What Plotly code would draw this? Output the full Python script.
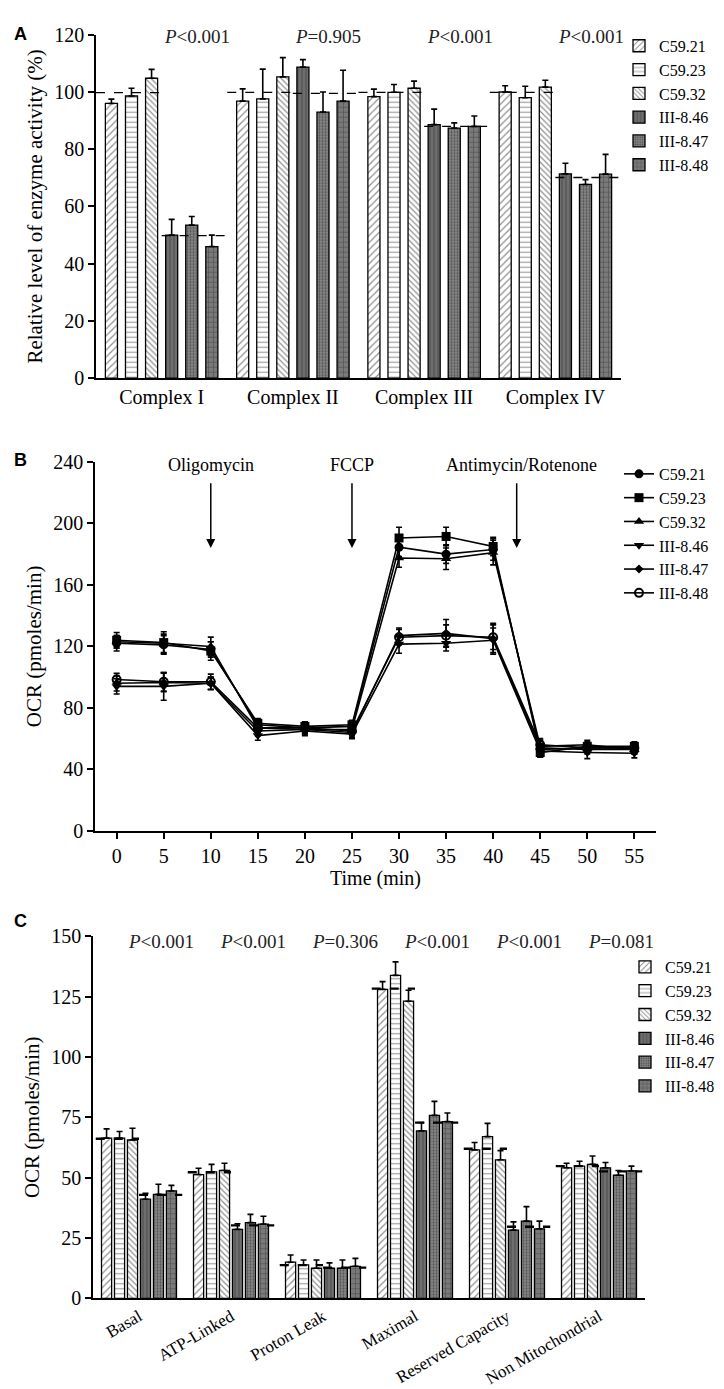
import numpy as np
import plotly.graph_objects as go

# ---------------- data ----------------
series = ["C59.21", "C59.23", "C59.32", "III-8.46", "III-8.47", "III-8.48"]

# Panel A
complexes = ["Complex I", "Complex II", "Complex III", "Complex IV"]
a_vals = {
    "C59.21": [96.0, 96.8, 98.4, 100.0],
    "C59.23": [98.6, 97.6, 99.9, 98.0],
    "C59.32": [104.8, 105.3, 101.3, 101.7],
    "III-8.46": [50.0, 108.7, 88.6, 71.4],
    "III-8.47": [53.5, 93.0, 87.4, 67.7],
    "III-8.48": [46.0, 96.8, 88.0, 71.3],
}
a_err = {
    "C59.21": [1.5, 4.3, 2.6, 2.2],
    "C59.23": [2.7, 10.4, 2.7, 4.0],
    "C59.32": [3.1, 6.7, 2.5, 2.4],
    "III-8.46": [5.5, 2.6, 5.4, 3.7],
    "III-8.47": [3.0, 7.0, 1.8, 1.7],
    "III-8.48": [4.0, 10.8, 3.6, 6.9],
}
a_pvals = ["<i>P</i>&lt;0.001", "<i>P</i>=0.905", "<i>P</i>&lt;0.001", "<i>P</i>&lt;0.001"]

# Panel B
time_min = [0, 5, 10, 15, 20, 25, 30, 35, 40, 45, 50, 55]
b_vals = {
    "C59.21": [122, 121, 118, 69, 67, 68, 184.5, 180, 183, 53, 54, 54],
    "C59.23": [124, 122.5, 117, 70, 68, 69, 190.5, 191.5, 185, 51, 55, 55],
    "C59.32": [123, 122, 120, 67, 66, 66, 177.5, 177, 181, 55, 56, 53],
    "III-8.46": [94, 94, 96, 62, 65, 63, 121.5, 122, 124, 52, 51, 50.5],
    "III-8.47": [96, 96.5, 96, 65, 66, 64, 127, 128.5, 125, 54, 53, 53],
    "III-8.48": [98.5, 97, 97, 67, 67, 65, 126, 127, 126, 56, 54, 54],
}
b_err = {
    "C59.21": [5, 6, 5, 3, 3, 3, 6, 6, 7, 4, 3, 3],
    "C59.23": [5, 7, 6, 3, 3, 3, 7, 6, 6, 3, 3, 3],
    "C59.32": [4, 6, 6, 3, 3, 3, 6, 7, 8, 4, 3, 3],
    "III-8.46": [5, 9, 4, 3, 3, 3, 6, 5, 8, 4, 4, 3],
    "III-8.47": [5, 6, 4, 3, 3, 3, 5, 9, 10, 5, 3, 3],
    "III-8.48": [4, 6, 5, 3, 3, 3, 5, 7, 8, 4, 3, 3],
}
injections = ["Oligomycin", "FCCP", "Antimycin/Rotenone"]
injection_times = [10, 25, 42.5]

# Panel C
c_cats = ["Basal", "ATP-Linked", "Proton Leak", "Maximal", "Reserved Capacity", "Non Mitochondrial"]
c_vals = {
    "C59.21": [66.4, 51.3, 15.0, 128.0, 61.5, 54.1],
    "C59.23": [66.4, 52.4, 13.9, 133.8, 67.0, 54.8],
    "C59.32": [65.6, 53.0, 12.5, 123.1, 57.4, 55.5],
    "III-8.46": [41.1, 28.6, 12.5, 69.4, 28.3, 54.1],
    "III-8.47": [43.1, 31.4, 12.5, 75.8, 32.0, 51.0],
    "III-8.48": [44.5, 30.8, 13.3, 73.2, 28.8, 52.8],
}
c_err = {
    "C59.21": [3.8, 2.6, 3.0, 3.2, 3.1, 1.9],
    "C59.23": [2.7, 3.1, 2.0, 5.6, 5.5, 2.0],
    "C59.32": [4.9, 3.0, 3.4, 4.5, 3.8, 3.5],
    "III-8.46": [2.4, 2.3, 2.2, 3.4, 3.4, 2.2],
    "III-8.47": [4.2, 3.4, 3.4, 5.8, 6.0, 2.0],
    "III-8.48": [2.3, 3.2, 3.3, 3.6, 3.2, 2.0],
}
c_pvals = ["<i>P</i>&lt;0.001", "<i>P</i>&lt;0.001", "<i>P</i>=0.306",
           "<i>P</i>&lt;0.001", "<i>P</i>&lt;0.001", "<i>P</i>=0.081"]

controls = series[:3]
mutants = series[3:]

# ---------------- styles ----------------
FONT = "Liberation Serif"
W, H = 724, 1389
bar_style = {
    "C59.21": dict(color="white", pattern=dict(shape="/", fgcolor="#222", bgcolor="white", size=5, solidity=0.25)),
    "C59.23": dict(color="white", pattern=dict(shape="-", fgcolor="#444", bgcolor="white", size=5, solidity=0.25)),
    "C59.32": dict(color="white", pattern=dict(shape="\\", fgcolor="#222", bgcolor="white", size=4, solidity=0.3)),
    "III-8.46": dict(color="#6a6a6a", pattern=dict(shape="|", fgcolor="#333", bgcolor="#6e6e6e", size=4, solidity=0.3)),
    "III-8.47": dict(color="#777", pattern=dict(shape=".", fgcolor="#1e1e1e", bgcolor="#8c8c8c", size=3, solidity=0.45)),
    "III-8.48": dict(color="#6a6a6a", pattern=dict(shape="+", fgcolor="#2a2a2a", bgcolor="#7a7a7a", size=5, solidity=0.25)),
}
line_markers = {
    "C59.21": dict(symbol="circle", size=9),
    "C59.23": dict(symbol="square", size=9),
    "C59.32": dict(symbol="triangle-up", size=9),
    "III-8.46": dict(symbol="triangle-down", size=9),
    "III-8.47": dict(symbol="diamond", size=7),
    "III-8.48": dict(symbol="circle-open", size=8),
}


def px_x(p):
    return p / W


def px_y(p):
    return 1 - p / H


fig = go.Figure()


def add_bars(vals, errs, xa, ya, legend, slot, width):
    n = len(series)
    xs = np.arange(len(next(iter(vals.values()))))
    for i, s in enumerate(series):
        st = bar_style[s]
        fig.add_trace(go.Bar(
            x=xs, y=vals[s], name=s, xaxis=xa, yaxis=ya, legend=legend,
            width=width, offset=(i - (n - 1) / 2) * slot - width / 2,
            marker=dict(color=st["color"], pattern=st["pattern"],
                        line=dict(color="black", width=1.3)),
            error_y=dict(type="data", array=errs[s], arrayminus=[0] * len(errs[s]),
                         symmetric=False, color="black", thickness=1.6, width=3),
        ))


def add_mean_lines(vals, xa, ya, half, width, dash):
    xs = np.arange(len(next(iter(vals.values()))))
    cm = np.mean([vals[s] for s in controls], axis=0)
    mm = np.mean([vals[s] for s in mutants], axis=0)
    lx, ly = [], []
    for i in xs:
        lx += [i - half, i, None, i, i + half, None]
        ly += [cm[i], cm[i], None, mm[i], mm[i], None]
    fig.add_trace(go.Scatter(x=lx, y=ly, mode="lines", xaxis=xa, yaxis=ya,
                             line=dict(color="black", width=width, dash=dash),
                             showlegend=False, hoverinfo="skip"))


# Panel A
add_bars(a_vals, a_err, "x", "y", "legend", slot=0.153, width=0.092)
add_mean_lines(a_vals, "x", "y", 0.5, 1.3, "dash")

# Panel B
for s in series:
    m = line_markers[s]
    fig.add_trace(go.Scatter(
        x=time_min, y=b_vals[s], name=s, mode="lines+markers", xaxis="x2", yaxis="y2",
        legend="legend2",
        line=dict(color="black", width=1.6),
        marker=dict(symbol=m["symbol"], size=m["size"], color="black",
                    line=dict(color="black", width=2 if "open" in m["symbol"] else 0)),
        error_y=dict(type="data", array=b_err[s], color="black", thickness=1.6, width=3),
    ))

# Panel C
add_bars(c_vals, c_err, "x3", "y3", "legend3", slot=0.141, width=0.11)
add_mean_lines(c_vals, "x3", "y3", 0.47, 2.4, "dash")

axis_common = dict(showline=True, linecolor="black", linewidth=1.5, showgrid=False,
                   zeroline=False, tickcolor="black", tickwidth=1.5,
                   tickfont=dict(family=FONT, size=20, color="black"))

annotations = []
# panel letters
for lab, ytop in [("A", 3), ("B", 436), ("C", 904)]:
    annotations.append(dict(text=f"<b>{lab}</b>", xref="paper", yref="paper", x=px_x(4), y=px_y(ytop),
                            xanchor="left", yanchor="top", showarrow=False,
                            font=dict(family="Liberation Sans", size=18, color="black")))
# P values A
for i, t in enumerate(a_pvals):
    annotations.append(dict(text=t, xref="x", yref="paper", x=i + 0.27, y=px_y(18), yanchor="middle",
                            showarrow=False, font=dict(family=FONT, size=19, color="#222")))
# P values C
for i, t in enumerate(c_pvals):
    annotations.append(dict(text=t, xref="x3", yref="paper", x=i + 0.24, y=px_y(937), yanchor="middle",
                            showarrow=False, font=dict(family=FONT, size=19, color="#222")))
# injections B
for lab, t in zip(injections, injection_times):
    annotations.append(dict(text="", x=t, y=184, ax=t, ay=227, xref="x2", yref="y2",
                            axref="x2", ayref="y2", showarrow=True, arrowhead=2,
                            arrowsize=1.2, arrowwidth=1.5, arrowcolor="black"))
    annotations.append(dict(text=lab, x=t + (0.5 if t > 40 else 0), y=238, xref="x2", yref="y2",
                            showarrow=False, yanchor="middle",
                            font=dict(family=FONT, size=18, color="black")))

legend_common = dict(xanchor="left", yanchor="top", bgcolor="rgba(0,0,0,0)",
                     font=dict(family=FONT, size=16, color="black"), itemwidth=30,
                     tracegroupgap=0)

fig.update_layout(
    width=W, height=H, margin=dict(l=0, r=0, t=0, b=0),
    paper_bgcolor="white", plot_bgcolor="white",
    font=dict(family=FONT, color="black"),
    barmode="overlay",
    showlegend=True,
    xaxis=dict(domain=[px_x(88), px_x(613)], anchor="y", range=[-0.5, 3.5],
               tickvals=list(range(len(complexes))), ticktext=complexes, ticks="", **axis_common),
    yaxis=dict(domain=[px_y(365), px_y(16)], anchor="x", range=[0, 120], dtick=20,
               ticks="outside", ticklen=6,
               title=dict(text="Relative level of enzyme activity (%)",
                          font=dict(family=FONT, size=21, color="black"), standoff=6),
               **axis_common),
    xaxis2=dict(domain=[px_x(87), px_x(648)], anchor="y2", range=[-2.3, 57.3], dtick=5,
                ticks="outside", ticklen=6,
                title=dict(text="Time (min)", font=dict(family=FONT, size=20, color="black"), standoff=4),
                **axis_common),
    yaxis2=dict(domain=[px_y(825), px_y(450)], anchor="x2", range=[0, 240], dtick=40,
                ticks="outside", ticklen=6,
                title=dict(text="OCR (pmoles/min)", font=dict(family=FONT, size=21, color="black"), standoff=6),
                **axis_common),
    xaxis3=dict(domain=[px_x(85), px_x(637)], anchor="y3", range=[-0.5, 5.5],
                tickvals=list(range(len(c_cats))), ticktext=c_cats, ticks="", tickangle=-30,
                **{**axis_common, "tickfont": dict(family=FONT, size=17, color="black")}),
    yaxis3=dict(domain=[px_y(1300), px_y(932)], anchor="x3", range=[0, 150], dtick=25,
                ticks="outside", ticklen=6,
                title=dict(text="OCR (pmoles/min)", font=dict(family=FONT, size=21, color="black"), standoff=6),
                **axis_common),
    legend=dict(x=px_x(611), y=px_y(10), **legend_common),
    legend2=dict(x=px_x(611), y=px_y(445), **legend_common),
    legend3=dict(x=px_x(617), y=px_y(946), **legend_common),
    annotations=annotations,
)

fig.write_html("out.html")
